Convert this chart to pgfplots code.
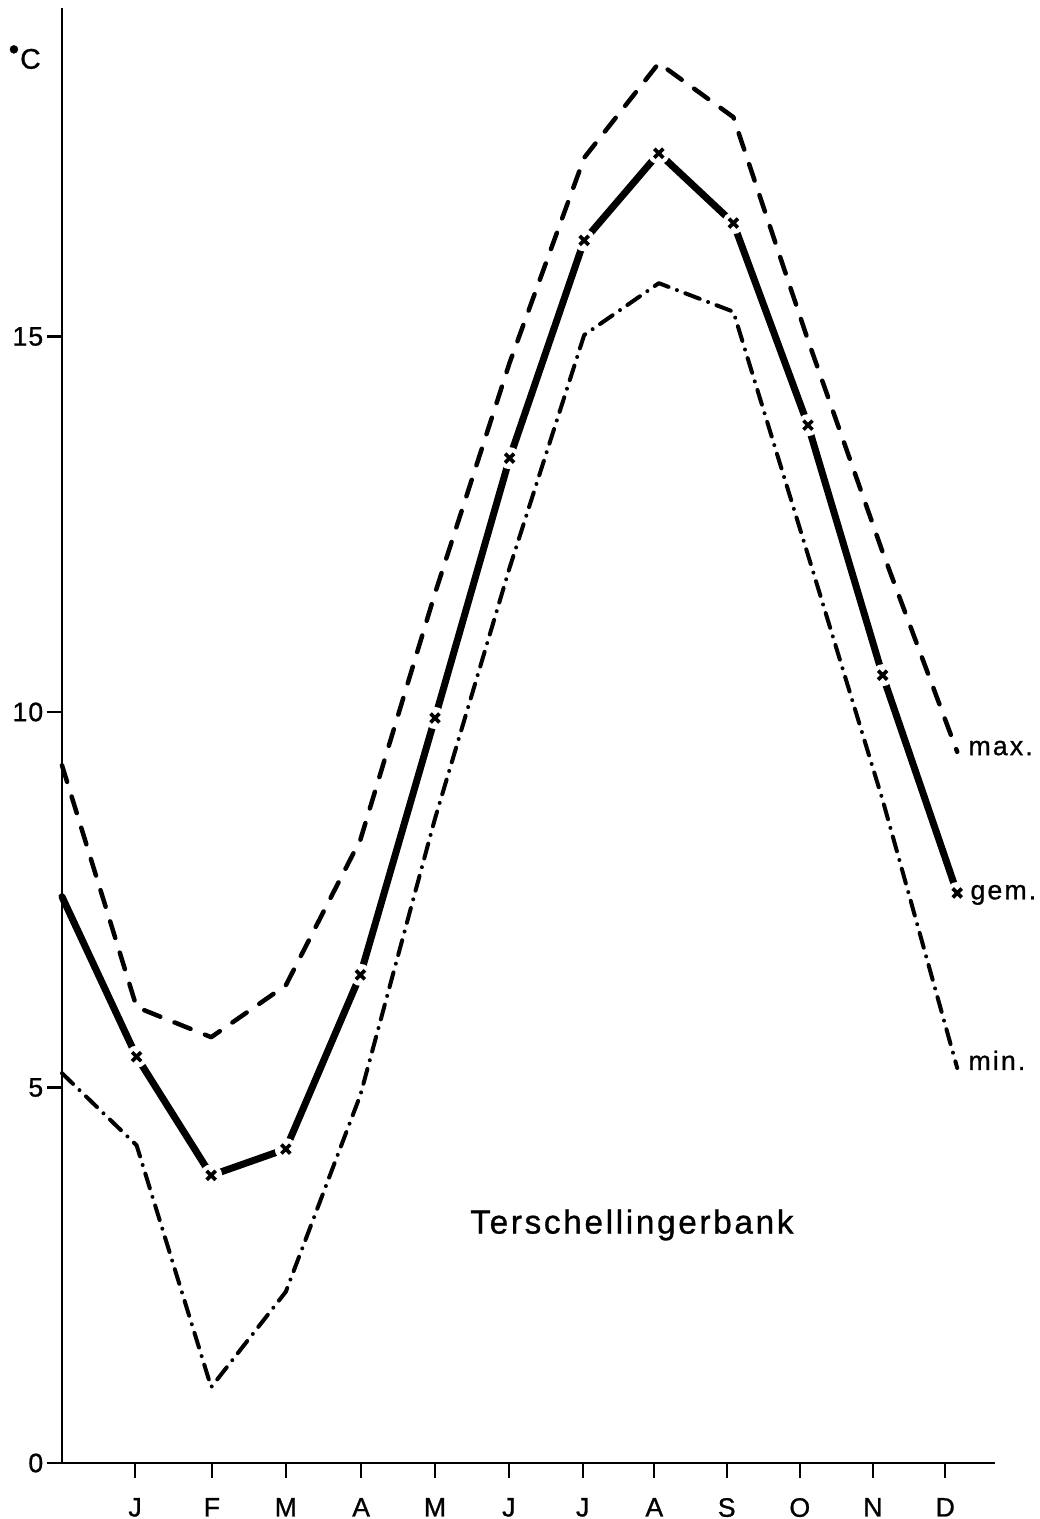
\documentclass[border=0pt]{standalone}
\usepackage{fontspec}
\setmainfont{Liberation Sans}
\newfontfamily\lab[FakeBold=0.9, LetterSpace=4]{Liberation Sans}
\newfontfamily\spaced[FakeBold=0.9, LetterSpace=8]{Liberation Sans}
\usepackage{pgfplots}
\pgfplotsset{compat=1.18}

% Monthly sea-surface temperature, Terschellingerbank (max / mean / min)
\pgfplotstableread{
m   tmax   tgem   tmin
0   9.29   7.54   5.19
1   6.07   5.41   4.23
2   5.67   3.83   1.01
3   6.36   4.18   2.28
4   8.30   6.50   4.90
5   11.58  9.92   8.58
6   14.65  13.38  11.92
7   17.38  16.28  15.02
8   18.64  17.44  15.71
9   17.92  16.51  15.33
10  14.95  13.82  12.09
11  12.13  10.49  8.83
12  9.47   7.59   5.26
}\temps

\begin{document}
\begin{tikzpicture}
\path[use as bounding box] (-18.6pt,-16.8pt) rectangle (293.1pt,438.9pt);
\begin{axis}[
  at={(0,0)}, anchor=origin,
  x=22.38pt, y=22.53pt,
  xmin=0, xmax=12.51, ymin=0, ymax=19.37,
  axis lines=left,
  axis line style={-, line width=0.75pt},
  tick align=outside,
  major tick length=4.5pt,
  tick style={line width=0.7pt, black},
  xtick={0.98,2.01,3.00,4.01,5.00,5.99,6.98,7.94,8.91,9.89,10.87,11.84},
  xticklabels={J,F,M,A,M,J,J,A,S,O,N,D},
  ytick={0,5,10,15},
  ticklabel style={font=\lab\fontsize{8}{9}\selectfont},
  /pgf/number format/assume math mode=true,
  xticklabel style={yshift=-2.5pt},
  yticklabel style={xshift=2.4pt},
  clip=false,
]
\addplot[line width=1.35pt, line cap=round, line join=round,
  dash pattern=on 5.2pt off 4.6pt] table[x=m,y=tmax]{\temps};
\addplot[line width=1.2pt, line cap=round, line join=round,
  dash pattern=on 4.6pt off 2.7pt on 0pt off 2.7pt] table[x=m,y=tmin]{\temps};
\addplot[line width=2.1pt, line cap=round, line join=round] table[x=m,y=tgem]{\temps};
% white halo so the mean line breaks around each cross
\addplot[only marks, mark=*, mark size=3.1pt, mark options={draw=white, fill=white},
  skip coords between index={0}{1}] table[x=m,y=tgem]{\temps};
\addplot[only marks, mark=x, mark size=1.9pt, mark options={line width=1.1pt, black},
  skip coords between index={0}{1}] table[x=m,y=tgem]{\temps};

\node[anchor=base west, inner sep=0pt, xshift=3.2pt, yshift=-1pt, font=\spaced\fontsize{8}{9}\selectfont] at (axis cs:12,9.47) {max.};
\node[anchor=base west, inner sep=0pt, xshift=3.8pt, yshift=-1.9pt, font=\spaced\fontsize{8}{9}\selectfont] at (axis cs:12,7.59) {gem.};
\node[anchor=base west, inner sep=0pt, xshift=3.2pt, yshift=-0.6pt, font=\spaced\fontsize{8}{9}\selectfont] at (axis cs:12,5.26) {min.};
\node[font=\spaced\fontsize{10}{12}\selectfont] at (axis cs:7.64,3.17) {Terschellingerbank};
\node[font=\lab\fontsize{8.5}{10}\selectfont] at (axis cs:-0.5,18.72) {\raisebox{2.8pt}{\fontsize{9}{9}\selectfont •}\kern0.3pt C};
\end{axis}
\end{tikzpicture}
\end{document}
